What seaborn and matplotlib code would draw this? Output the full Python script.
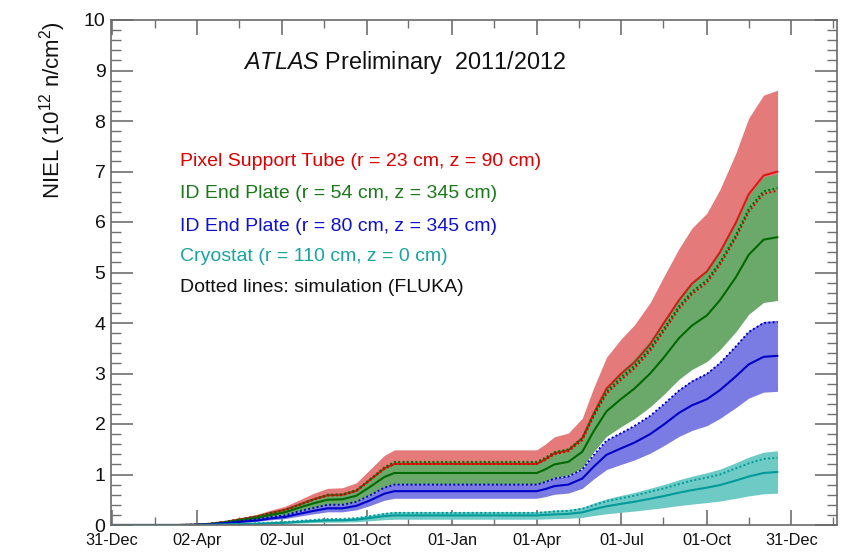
import numpy as np
import pandas as pd
import matplotlib
matplotlib.use("Agg")
import matplotlib.pyplot as plt
import seaborn as sns

# ---------------- data ----------------
dates = ["2011-01-01", "2011-03-13", "2011-04-01", "2011-04-15", "2011-05-01",
         "2011-05-20", "2011-06-05", "2011-06-20", "2011-07-05", "2011-07-20",
         "2011-08-05", "2011-08-20", "2011-09-05", "2011-09-20", "2011-10-05",
         "2011-10-20", "2011-10-31", "2012-04-01", "2012-04-10", "2012-04-20",
         "2012-05-05", "2012-05-20", "2012-06-01", "2012-06-15", "2012-07-01",
         "2012-07-15", "2012-08-01", "2012-08-15", "2012-09-01", "2012-09-15",
         "2012-10-01", "2012-10-15", "2012-11-01", "2012-11-15", "2012-12-01",
         "2012-12-16"]

# measured NIEL (1e12 n/cm2)
pixel_tube_meas = [0, 0, 0.006, 0.024, 0.06, 0.12, 0.17, 0.24, 0.30, 0.40, 0.51, 0.59,
                   0.60, 0.68, 0.90, 1.12, 1.21, 1.21, 1.30, 1.42, 1.48, 1.72, 2.20,
                   2.70, 3.00, 3.22, 3.58, 3.98, 4.45, 4.78, 5.02, 5.40, 5.98, 6.55,
                   6.92, 7.00]
endplate54_meas = [0, 0, 0.005, 0.02, 0.05, 0.10, 0.14, 0.20, 0.25, 0.34, 0.43, 0.50,
                   0.51, 0.58, 0.76, 0.95, 1.03, 1.03, 1.10, 1.20, 1.25, 1.45, 1.85,
                   2.25, 2.50, 2.70, 3.00, 3.30, 3.70, 3.95, 4.15, 4.45, 4.90, 5.35,
                   5.65, 5.70]
endplate80_meas = [0, 0, 0.003, 0.013, 0.033, 0.065, 0.09, 0.13, 0.16, 0.22, 0.28, 0.33,
                   0.33, 0.38, 0.49, 0.62, 0.67, 0.67, 0.71, 0.77, 0.80, 0.92, 1.15,
                   1.39, 1.52, 1.63, 1.80, 1.98, 2.22, 2.37, 2.49, 2.67, 2.94, 3.18,
                   3.33, 3.35]
cryostat_meas = [0, 0, 0.001, 0.004, 0.009, 0.018, 0.026, 0.037, 0.046, 0.063, 0.08, 0.092,
                 0.094, 0.107, 0.14, 0.175, 0.19, 0.19, 0.20, 0.21, 0.22, 0.25, 0.31,
                 0.37, 0.42, 0.46, 0.52, 0.57, 0.64, 0.69, 0.74, 0.79, 0.88, 0.96,
                 1.03, 1.05]

# simulation (FLUKA), dotted lines
pixel_tube_sim = [0, 0, 0.006, 0.023, 0.058, 0.115, 0.165, 0.235, 0.29, 0.39, 0.50, 0.58,
                  0.59, 0.67, 0.89, 1.11, 1.21, 1.21, 1.29, 1.40, 1.46, 1.68, 2.14,
                  2.60, 2.88, 3.10, 3.45, 3.82, 4.28, 4.57, 4.80, 5.15, 5.68, 6.20,
                  6.56, 6.62]
endplate54_sim = [0, 0, 0.006, 0.024, 0.06, 0.12, 0.17, 0.24, 0.30, 0.40, 0.51, 0.60,
                  0.61, 0.69, 0.91, 1.14, 1.25, 1.25, 1.33, 1.44, 1.50, 1.72, 2.18,
                  2.64, 2.93, 3.15, 3.50, 3.87, 4.33, 4.62, 4.85, 5.20, 5.73, 6.26,
                  6.61, 6.67]
endplate80_sim = [0, 0, 0.004, 0.016, 0.04, 0.08, 0.11, 0.16, 0.19, 0.27, 0.34, 0.40,
                  0.40, 0.46, 0.59, 0.74, 0.80, 0.80, 0.85, 0.92, 0.96, 1.10, 1.38,
                  1.67, 1.82, 1.96, 2.16, 2.38, 2.66, 2.84, 2.99, 3.20, 3.53, 3.82,
                  4.00, 4.02]
cryostat_sim = [0, 0, 0.001, 0.005, 0.011, 0.023, 0.033, 0.047, 0.058, 0.08, 0.10, 0.117,
                0.12, 0.136, 0.178, 0.22, 0.24, 0.24, 0.25, 0.27, 0.28, 0.32, 0.39,
                0.47, 0.53, 0.58, 0.66, 0.72, 0.81, 0.88, 0.94, 1.00, 1.12, 1.22,
                1.31, 1.33]

# relative uncertainty of each measurement (band half-width)
rel_unc = [0.23, 0.22, 0.21, 0.40]

series_labels = ["Pixel Support Tube (r = 23 cm, z = 90 cm)",
                 "ID End Plate (r = 54 cm, z = 345 cm)",
                 "ID End Plate (r = 80 cm, z = 345 cm)",
                 "Cryostat (r = 110 cm, z = 0 cm)"]
note_label = "Dotted lines: simulation (FLUKA)"

tick_dates = ["2010-12-31", "2011-04-02", "2011-07-02", "2011-10-01", "2012-01-01",
              "2012-04-01", "2012-07-01", "2012-10-01", "2012-12-31"]
tick_labels = ["31-Dec", "02-Apr", "02-Jul", "01-Oct", "01-Jan",
               "01-Apr", "01-Jul", "01-Oct", "31-Dec"]
minor_tick_dates = ["2011-02-15", "2011-05-17", "2011-08-16", "2011-11-15", "2012-02-15",
                    "2012-05-16", "2012-08-15", "2012-11-15", "2013-02-14"]

# ---------------- style ----------------
sns.set_theme(style="ticks")
plt.rcParams["font.family"] = ["Liberation Sans", "DejaVu Sans"]
plt.rcParams["mathtext.fontset"] = "custom"
plt.rcParams["mathtext.rm"] = "Liberation Sans"
plt.rcParams["mathtext.it"] = "Liberation Sans:italic"
plt.rcParams["mathtext.bf"] = "Liberation Sans:bold"
plt.rcParams["mathtext.default"] = "regular"

band_colors = ["#E47A7A", "#6BA96B", "#7B7BE4", "#6DCAC5"]
line_colors = ["#E00000", "#006A00", "#0000C8", "#009A9A"]
text_colors = ["#DD0000", "#1A7A1A", "#1010D0", "#1AA5A0"]

fig = plt.figure(figsize=(8.46, 5.55), dpi=100)
ax = fig.add_axes([111 / 846, 30 / 555, 726 / 846, 505 / 555])

t = pd.to_datetime(dates)
meas_all = [pixel_tube_meas, endplate54_meas, endplate80_meas, cryostat_meas]
sim_all = [pixel_tube_sim, endplate54_sim, endplate80_sim, cryostat_sim]

for i in range(4):
    m = np.asarray(meas_all[i], dtype=float)
    ax.fill_between(t, m * (1 - rel_unc[i]), m * (1 + rel_unc[i]),
                    color=band_colors[i], lw=0, zorder=1 + i)

for i in range(4):
    df_m = pd.DataFrame({"date": t, "niel": meas_all[i]})
    df_s = pd.DataFrame({"date": t, "niel": sim_all[i]})
    sns.lineplot(data=df_m, x="date", y="niel", ax=ax, color=line_colors[i],
                 lw=1.5, estimator=None, zorder=20 + 2 * i,
                 alpha=0.8 if i == 0 else 1.0, legend=False)
    sns.lineplot(data=df_s, x="date", y="niel", ax=ax, color=line_colors[i],
                 lw=1.4, linestyle=(0, (1, 1.2)), estimator=None,
                 zorder=21 + 2 * i, legend=False)

# ---------------- axes ----------------
ax.set_xlim(pd.Timestamp("2010-12-30"), pd.Timestamp("2013-02-18"))
ax.set_ylim(0, 10)
ax.set_xticks(pd.to_datetime(tick_dates))
ax.set_xticklabels(tick_labels)
ax.set_xticks(pd.to_datetime(minor_tick_dates), minor=True)
ax.set_yticks(np.arange(0, 11, 1))
ax.set_yticklabels([str(v) for v in range(11)])
ax.yaxis.set_minor_locator(matplotlib.ticker.MultipleLocator(0.2))
ax.set_xlabel("")
ax.set_ylabel("NIEL (10$^{12}$ n/cm$^{2}$)", fontsize=16, color="#111111")
ax.yaxis.set_label_coords(-0.081, 0.822)
ax.yaxis.label.set_va("center")

tick_col = "#707070"
ax.tick_params(axis="y", which="major", direction="in", length=15.6, width=1.2,
               color=tick_col, left=True, right=True, labelsize=14, pad=4,
               labelcolor="#111111")
ax.tick_params(axis="y", which="minor", direction="in", length=7.5, width=1.0,
               color=tick_col, left=True, right=True)
ax.tick_params(axis="x", which="major", direction="in", length=10.8, width=1.2,
               color=tick_col, bottom=True, top=True, labelsize=11.8, pad=6,
               labelcolor="#111111")
ax.tick_params(axis="x", which="minor", direction="in", length=5.8, width=1.0,
               color=tick_col, bottom=True, top=True)
for s in ax.spines.values():
    s.set_visible(True)
    s.set_color("#6A6A6A")
    s.set_linewidth(1.2)
    s.set_zorder(50)

# ---------------- texts ----------------
fig.text(243 / 846, 1 - 63 / 555, r"$\it{ATLAS}$ Preliminary  2011/2012",
         fontsize=16.8, ha="left", va="center", color="#111111")
ys = [162, 194, 226, 257, 288]
for i, lab in enumerate(series_labels):
    fig.text(180 / 846, 1 - ys[i] / 555, lab, fontsize=14, color=text_colors[i],
             ha="left", va="center")
fig.text(180 / 846, 1 - ys[4] / 555, note_label, fontsize=14, color="#111111",
         ha="left", va="center")

fig.savefig("out.png", dpi=100)
